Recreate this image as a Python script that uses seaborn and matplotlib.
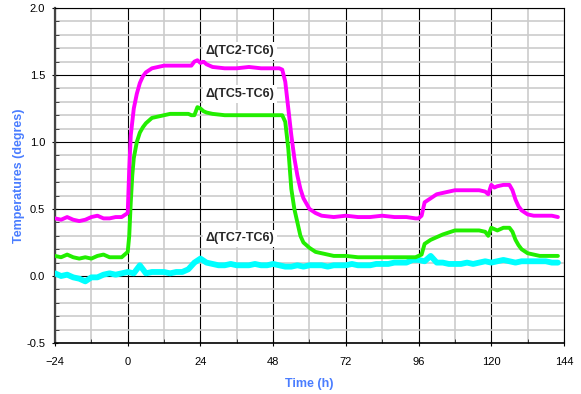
import pandas as pd
import matplotlib.pyplot as plt
import seaborn as sns
from matplotlib.ticker import MultipleLocator

# time axis for the two smooth series (hours)
t = [-24, -22, -20, -18, -16, -14, -12, -10, -8, -6, -4, -2, 0, 0.5, 1, 1.5, 2, 3, 4, 5, 6, 8, 10,
     12, 14, 16, 18, 20, 21, 22, 23, 24, 25, 26, 28, 32, 36, 40, 44, 48, 50, 51, 52, 53, 54, 55,
     56, 57, 58, 60, 62, 64, 68, 72, 76, 80, 84, 88, 92, 95, 96, 97, 98, 100, 102, 104, 108, 112,
     116, 118, 119, 120, 121, 122, 124, 126, 127, 128, 129, 130, 132, 134, 136, 140, 142]

tc2_tc6 = [0.43, 0.42, 0.44, 0.42, 0.41, 0.42, 0.44, 0.45, 0.43, 0.43, 0.44, 0.44, 0.47, 0.80, 1.05,
           1.15, 1.25, 1.36, 1.44, 1.49, 1.52, 1.55, 1.56, 1.57, 1.57, 1.57, 1.57, 1.57, 1.57, 1.60,
           1.61, 1.59, 1.60, 1.58, 1.56, 1.55, 1.55, 1.56, 1.55, 1.55, 1.55, 1.54, 1.45, 1.25, 1.05,
           0.88, 0.75, 0.65, 0.58, 0.50, 0.47, 0.45, 0.44, 0.45, 0.44, 0.44, 0.45, 0.44, 0.44, 0.43,
           0.43, 0.45, 0.55, 0.58, 0.61, 0.62, 0.64, 0.64, 0.64, 0.63, 0.61, 0.68, 0.66, 0.67, 0.68,
           0.68, 0.64, 0.57, 0.52, 0.49, 0.46, 0.45, 0.45, 0.45, 0.44]

tc5_tc6 = [0.15, 0.14, 0.16, 0.14, 0.13, 0.14, 0.13, 0.15, 0.16, 0.14, 0.14, 0.14, 0.18, 0.30, 0.55,
           0.75, 0.88, 1.00, 1.07, 1.11, 1.14, 1.18, 1.19, 1.20, 1.21, 1.21, 1.21, 1.21, 1.20, 1.20,
           1.26, 1.25, 1.23, 1.22, 1.21, 1.20, 1.20, 1.20, 1.20, 1.20, 1.20, 1.20, 1.15, 0.95, 0.65,
           0.50, 0.40, 0.30, 0.25, 0.21, 0.18, 0.17, 0.15, 0.15, 0.14, 0.14, 0.14, 0.14, 0.14, 0.14,
           0.15, 0.16, 0.24, 0.27, 0.29, 0.31, 0.34, 0.34, 0.34, 0.33, 0.30, 0.36, 0.35, 0.34, 0.36,
           0.36, 0.33, 0.27, 0.23, 0.20, 0.17, 0.16, 0.15, 0.15, 0.15]

# noisy series, read every 2 h
t_c = list(range(-24, 143, 2))
tc7_tc6 = [0.02, 0.00, 0.01, -0.01, -0.02, -0.04, -0.01, -0.01, 0.01, 0.02, 0.01, 0.02, 0.03, 0.02,
           0.08, 0.02, 0.03, 0.03, 0.03, 0.02, 0.03, 0.03, 0.05, 0.10, 0.13, 0.10, 0.09, 0.08, 0.08,
           0.09, 0.08, 0.08, 0.08, 0.09, 0.08, 0.08, 0.09, 0.08, 0.07, 0.07, 0.08, 0.07, 0.08, 0.08,
           0.08, 0.07, 0.08, 0.08, 0.08, 0.09, 0.08, 0.08, 0.08, 0.09, 0.09, 0.09, 0.10, 0.10, 0.10,
           0.12, 0.12, 0.11, 0.15, 0.10, 0.10, 0.09, 0.09, 0.09, 0.10, 0.09, 0.10, 0.11, 0.10, 0.11,
           0.12, 0.11, 0.10, 0.11, 0.11, 0.11, 0.11, 0.11, 0.10, 0.10]

labels = ["Δ(TC2-TC6)", "Δ(TC5-TC6)", "Δ(TC7-TC6)"]
label_pos = [(37, 1.68), (37, 1.36), (37, 0.28)]

sns.set_style("white")
plt.rcParams['font.family'] = ['Liberation Sans', 'DejaVu Sans']

fig = plt.figure(figsize=(5.81, 3.94), dpi=100)
ax = fig.add_axes([0.0947, 0.1294, 0.876, 0.8503])

df = pd.DataFrame({"t": t, "a": tc2_tc6, "b": tc5_tc6})
dfc = pd.DataFrame({"t": t_c, "c": tc7_tc6})

sns.lineplot(data=dfc, x="t", y="c", color="#00ffff", lw=4.2, ax=ax, zorder=3)
sns.lineplot(data=df, x="t", y="b", color="#22ee00", lw=2.8, ax=ax, zorder=4)
sns.lineplot(data=df, x="t", y="a", color="#ff00ff", lw=2.8, ax=ax, zorder=5)

for txt, (x, y) in zip(labels, label_pos):
    ax.text(x, y, txt, fontsize=9, fontweight="bold", ha="center", va="center", zorder=6,
            bbox=dict(facecolor="white", edgecolor="none", pad=2))

ax.set_xlim(-24, 144)
ax.set_ylim(-0.5, 2.0)
ax.xaxis.set_major_locator(MultipleLocator(24))
ax.xaxis.set_minor_locator(MultipleLocator(12))
ax.yaxis.set_major_locator(MultipleLocator(0.5))
ax.yaxis.set_minor_locator(MultipleLocator(0.1))
ax.yaxis.set_major_formatter(plt.FormatStrFormatter("%.1f"))

ax.grid(which="minor", color="#cccccc", lw=1.2, zorder=0)
ax.grid(which="major", color="black", lw=0.8, zorder=1)
ax.set_axisbelow(True)

ax.tick_params(which="major", direction="inout", length=4, labelsize=8, colors="black")
ax.tick_params(axis="x", which="major", pad=8)
ax.tick_params(axis="y", which="major", pad=5)
ax.tick_params(which="minor", direction="in", length=3, left=True, bottom=True)
ax.tick_params(which="both", left=True, bottom=True)

for s in ax.spines.values():
    s.set_color("black")
    s.set_linewidth(0.8)
ax.spines["left"].set_color("#444444")
ax.spines["left"].set_linewidth(1.6)
ax.spines["bottom"].set_linewidth(1.2)

ax.set_xlabel("Time (h)", color="#4a7dff", fontsize=9, fontweight="bold", labelpad=8)
ax.set_ylabel("Temperatures (degres)", color="#4a7dff", fontsize=9, fontweight="bold", labelpad=1)

fig.savefig("out.png", dpi=100)
